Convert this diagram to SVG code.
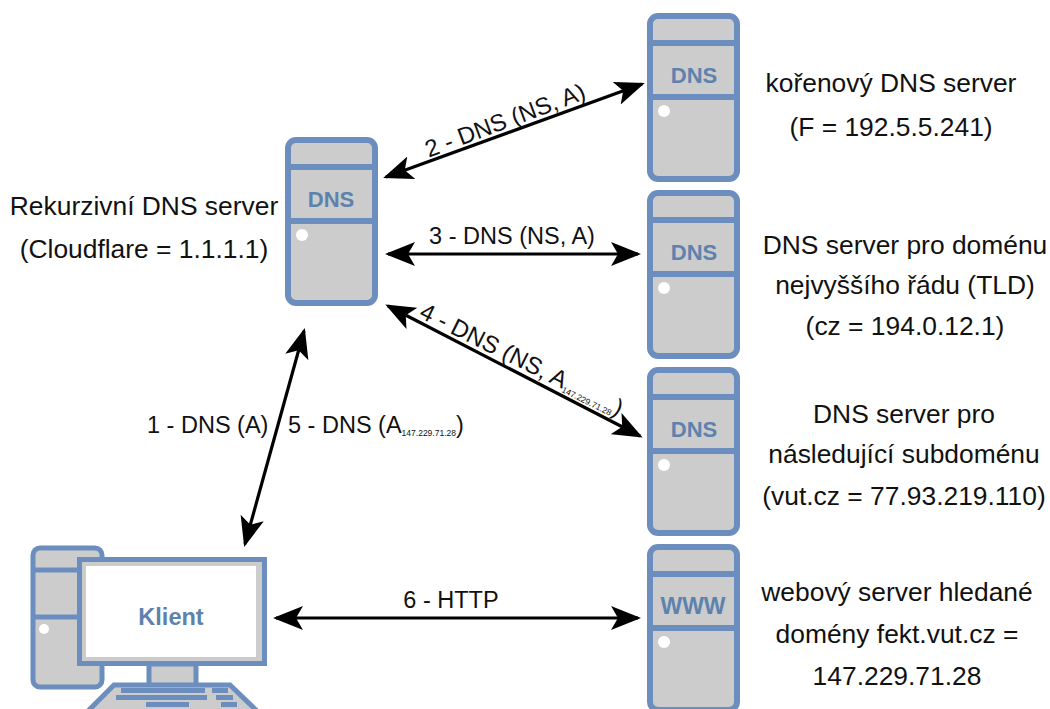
<svg xmlns="http://www.w3.org/2000/svg" width="1050" height="709" viewBox="0 0 1050 709">
<style>
text{font-family:"Liberation Sans",Arial,sans-serif;fill:#111;font-size:26.400px}
.c{text-anchor:middle}
.ic{font-weight:bold;fill:#5c82ad;text-anchor:middle;font-size:22px}
.b{fill:#cccccc;stroke:#6c8ebf;stroke-width:6}
.l{fill:none;stroke:#6c8ebf;stroke-width:6}
.f{fill:#6c8ebf}
.a{fill:none;stroke:#000;stroke-width:3.2;marker-start:url(#h);marker-end:url(#h)}
.e{font-size:23.500px}
.r{font-size:24px}
.s{font-size:8.500px}
</style>
<defs>
<marker id="h" viewBox="0 0 30 24" refX="27" refY="12" markerUnits="userSpaceOnUse" markerWidth="30" markerHeight="24" orient="auto-start-reverse">
<path d="M0 0L30 12L0 24L7 12Z" fill="#000"/>
</marker>
<g id="srv">
<rect class="b" x="3" y="3" width="87" height="163" rx="8"/>
<path class="l" d="M3 30H90M3 84H90"/>
<circle cx="17" cy="98" r="6" fill="#fff"/>
</g>
</defs>
<g id="connectors">
<path class="a" d="M386 177L642 84"/>
<path class="a" d="M388 254H638"/>
<path class="a" d="M388 306L640 436"/>
<path class="a" d="M304 331L245 544"/>
<path class="a" d="M276 618H638"/>
</g>
<g id="recursive"><use href="#srv" x="285" y="137"/><text class="ic" x="331" y="207">DNS</text></g>
<g id="root"><use href="#srv" x="647" y="13"/><text class="ic" x="694" y="83">DNS</text></g>
<g id="tld"><use href="#srv" x="647" y="190"/><text class="ic" x="694" y="260">DNS</text></g>
<g id="sub"><use href="#srv" x="647" y="367"/><text class="ic" x="694" y="437">DNS</text></g>
<g id="web"><use href="#srv" x="647" y="544"/><text class="ic" x="693" y="614" style="font-size:23px">WWW</text></g>
<g id="client">
<rect class="b" x="33" y="548" width="69" height="139" rx="7" style="stroke-width:5"/>
<path class="l" d="M33 570H80M33 617H80" style="stroke-width:5"/>
<circle cx="44" cy="629" r="5" fill="#fff"/>
<rect x="149" y="664" width="47" height="22" class="b" style="stroke-width:5"/>
<path class="b" d="M114 685H230L258 712H87Z" style="stroke-width:5"/>
<path class="f" d="M121 688H205V693H121ZM212 688H228V693H212ZM116 695H207V700H116ZM216 695H233V700H216ZM146 702H189V707H146ZM221 702H237V707H221Z"/>
<rect x="79.500" y="559.500" width="185" height="104" style="fill:#cccccc;stroke:#6c8ebf;stroke-width:5"/>
<rect x="86" y="566" width="170" height="91" fill="#fff"/>
<text class="ic" x="171" y="625" style="font-size:23.500px">Klient</text>
</g>
<g id="labels">
<text class="c" x="144" y="215">Rekurzivní DNS server</text>
<text class="c" x="144" y="258">(Cloudflare = 1.1.1.1)</text>
<text class="c" x="891" y="92">kořenový DNS server</text>
<text class="c" x="891" y="136">(F = 192.5.5.241)</text>
<text class="c" x="905" y="254">DNS server pro doménu</text>
<text class="c" x="905" y="294">nejvyššího řádu (TLD)</text>
<text class="c" x="905" y="335">(cz = 194.0.12.1)</text>
<text class="c" x="904" y="423">DNS server pro</text>
<text class="c" x="904" y="463">následující subdoménu</text>
<text class="c" x="904" y="505">(vut.cz = 77.93.219.110)</text>
<text class="c" x="897" y="601">webový server hledané</text>
<text class="c" x="897" y="643">domény fekt.vut.cz =</text>
<text class="c" x="897" y="685">147.229.71.28</text>
<text class="c r" x="508" y="128" transform="rotate(-20.500 508 128)">2 - DNS (NS, A)</text>
<text class="c e" x="512" y="244">3 - DNS (NS, A)</text>
<text class="r" x="418" y="317" transform="rotate(26.500 418 317)">4 - DNS (NS, A<tspan class="s" dy="3">147.229.71.28</tspan><tspan dy="-3">)</tspan></text>
<text class="e" x="147" y="433">1 - DNS (A)</text>
<text class="e" x="288" y="433">5 - DNS (A<tspan class="s" dy="3">147.229.71.28</tspan><tspan dy="-3">)</tspan></text>
<text class="c e" x="451" y="608">6 - HTTP</text>
</g>
</svg>
